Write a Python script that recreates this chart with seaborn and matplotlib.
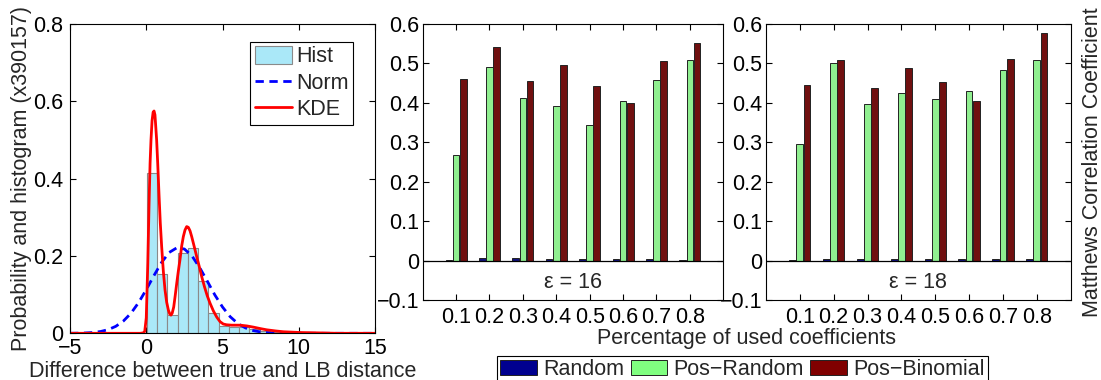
import numpy as np
import pandas as pd
import matplotlib
matplotlib.use("Agg")
import matplotlib.pyplot as plt
from matplotlib.patches import Patch
from matplotlib.lines import Line2D
from matplotlib.ticker import FixedLocator, FixedFormatter
import seaborn as sns

# ---------------- data ----------------
# histogram of the distance difference (normalised)
hist_left = 0.03
hist_width = 0.673
hist_heights = [0.415, 0.153, 0.047, 0.208, 0.221, 0.134, 0.052, 0.019,
                0.017, 0.017, 0.010, 0.006, 0.004, 0.003, 0.002, 0.001]

# fitted normal curve
norm_x = [-5, -4.5, -4, -3.5, -3, -2.5, -2, -1.5, -1, -0.5, 0, 0.5, 1, 1.5,
          2, 2.5, 3, 3.5, 4, 4.5, 5, 5.5, 6, 6.5, 7, 7.5, 8, 8.5, 9, 10, 15]
norm_y = [0.0001, 0.0004, 0.0009, 0.002, 0.0046, 0.0094, 0.018, 0.0317,
          0.052, 0.0796, 0.113, 0.149, 0.183, 0.209, 0.221, 0.218, 0.200,
          0.170, 0.135, 0.099, 0.068, 0.043, 0.0255, 0.014, 0.0071, 0.0034,
          0.0015, 0.0006, 0.0002, 0.0, 0.0]

# kernel density estimate
kde_x = [-5, -0.4, -0.2, -0.1, 0.0, 0.05, 0.1, 0.18, 0.25, 0.31, 0.38, 0.45,
         0.51, 0.57, 0.63, 0.68, 0.75, 0.84, 0.92, 1.01, 1.12, 1.23, 1.34,
         1.45, 1.54, 1.62, 1.7, 1.8, 1.89, 2.0, 2.1, 2.21, 2.32, 2.43, 2.54,
         2.65, 2.76, 2.87, 2.98, 3.14, 3.31, 3.48, 3.64, 3.82, 4.0, 4.18, 4.4,
         4.62, 4.84, 5.05, 5.27, 5.6, 6.15, 6.6, 7.02, 7.5, 7.9, 8.5, 9.0,
         10.1, 11.4, 12.5, 15]
kde_y = [0, 0, 0.001, 0.005, 0.04, 0.11, 0.18, 0.33, 0.44, 0.50, 0.55, 0.572,
         0.575, 0.565, 0.53, 0.50, 0.44, 0.355, 0.285, 0.224, 0.16, 0.112,
         0.08, 0.060, 0.050, 0.047, 0.052, 0.068, 0.095, 0.13, 0.16, 0.19,
         0.225, 0.25, 0.267, 0.276, 0.274, 0.265, 0.25, 0.225, 0.198, 0.172,
         0.146, 0.12, 0.097, 0.078, 0.058, 0.042, 0.030, 0.024, 0.022, 0.021,
         0.021, 0.019, 0.016, 0.012, 0.009, 0.006, 0.004, 0.002, 0.001, 0.0,
         0.0]

# Matthews correlation coefficient per fraction of used coefficients
pct_labels = ["0.1", "0.2", "0.3", "0.4", "0.5", "0.6", "0.7", "0.8"]
methods = ["Random", "Pos\u2212Random", "Pos\u2212Binomial"]
eps16_random = [0.001, 0.006, 0.007, 0.004, 0.005, 0.005, 0.003, 0.002]
eps16_posrand = [0.267, 0.492, 0.413, 0.391, 0.344, 0.406, 0.458, 0.510]
eps16_posbin = [0.460, 0.541, 0.456, 0.497, 0.442, 0.399, 0.506, 0.551]
eps18_random = [0.002, 0.003, 0.004, 0.003, 0.004, 0.005, 0.005, 0.005]
eps18_posrand = [0.296, 0.502, 0.397, 0.426, 0.409, 0.429, 0.483, 0.508]
eps18_posbin = [0.445, 0.508, 0.438, 0.489, 0.453, 0.405, 0.511, 0.578]

left_xticks = [-5, 0, 5, 10, 15]
left_yticks = [0, 0.2, 0.4, 0.6, 0.8]
left_yticklabels = ["0", "0.2", "0.4", "0.6", "0.8"]
bar_yticks = [-0.1, 0, 0.1, 0.2, 0.3, 0.4, 0.5, 0.6]
bar_yticklabels = ["\u22120.1", "0", "0.1", "0.2", "0.3", "0.4", "0.5", "0.6"]

# ---------------- style ----------------
FS = 15.5
sns.set_style("ticks")
plt.rcParams["font.family"] = ["Liberation Sans", "DejaVu Sans"]
plt.rcParams["font.size"] = FS
plt.rcParams["axes.linewidth"] = 0.8
plt.rcParams["axes.edgecolor"] = "black"

bar_colors = ["#00008F", "#80FF80", "#800000"]
hist_color = "#AAE8F8"

fig = plt.figure(figsize=(11.01, 3.80), dpi=100)
ax1 = fig.add_axes([0.0636, 0.1229, 0.2770, 0.8140])
ax2 = fig.add_axes([0.3839, 0.2105, 0.2730, 0.7263])
ax3 = fig.add_axes([0.6957, 0.2105, 0.2767, 0.7263])


def box_ticks(ax, pad_x, pad_y):
    ax.tick_params(axis="both", which="both", direction="in", length=4,
                   width=0.8, top=True, right=True, labelsize=FS,
                   color="black", labelcolor="black")
    ax.tick_params(axis="x", pad=pad_x)
    ax.tick_params(axis="y", pad=pad_y)
    for s in ax.spines.values():
        s.set_visible(True)
        s.set_color("black")
        s.set_linewidth(0.8)


# ---------------- left panel: distribution ----------------
n_bins = len(hist_heights)
centers = hist_left + hist_width * (np.arange(n_bins) + 0.5)
hist_df = pd.DataFrame({"center": centers, "height": hist_heights})
sns.histplot(data=hist_df, x="center", weights="height",
             binwidth=hist_width,
             binrange=(hist_left, hist_left + n_bins * hist_width),
             stat="count", color=hist_color, edgecolor="#8A8A8A",
             linewidth=0.8, alpha=1.0, ax=ax1)
sns.lineplot(x=norm_x, y=norm_y, color="#0000FF", lw=2.0,
             linestyle=(0, (3.0, 2.0)), sort=False, estimator=None, ax=ax1)
sns.lineplot(x=kde_x, y=kde_y, color="#FF0000", lw=2.0, sort=False,
             estimator=None, ax=ax1)
ax1.set_xlim(-5, 15)
ax1.set_ylim(0, 0.8)
ax1.xaxis.set_major_locator(FixedLocator(left_xticks))
ax1.yaxis.set_major_locator(FixedLocator(left_yticks))
ax1.yaxis.set_major_formatter(FixedFormatter(left_yticklabels))
box_ticks(ax1, pad_x=3.5, pad_y=5)
ax1.set_xlabel("Difference between true and LB distance", fontsize=FS,
               labelpad=1.5)
ax1.set_ylabel("Probability and histogram (x390157)", fontsize=FS,
               labelpad=1)

leg_handles = [
    Patch(facecolor=hist_color, edgecolor="#8A8A8A", lw=0.8, label="Hist"),
    Line2D([0], [0], color="#0000FF", lw=2.0, linestyle=(0, (3.0, 2.0)),
           label="Norm"),
    Line2D([0], [0], color="#FF0000", lw=2.0, label="KDE"),
]
leg1 = ax1.legend(handles=leg_handles, loc="upper right",
                  bbox_to_anchor=(0.929, 0.943), fontsize=FS, frameon=True,
                  fancybox=False, framealpha=1, edgecolor="black",
                  handlelength=1.7, handleheight=0.85, handletextpad=0.2,
                  labelspacing=0.25, borderpad=0.22, borderaxespad=0)
leg1.get_frame().set_linewidth(0.8)

# ---------------- bar panels ----------------
def bar_panel(ax, rnd, prnd, pbin, eps_label):
    df = pd.DataFrame({
        "pct": pct_labels * 3,
        "method": [methods[0]] * 8 + [methods[1]] * 8 + [methods[2]] * 8,
        "mcc": list(rnd) + list(prnd) + list(pbin),
    })
    sns.barplot(data=df, x="pct", y="mcc", hue="method", hue_order=methods,
                palette=bar_colors, width=0.64, gap=0.06, edgecolor="#222222",
                linewidth=0.7, legend=False, ax=ax)
    ax.axhline(0, color="black", lw=0.9, zorder=5)
    ax.set_xlim(-1, 8)
    ax.set_ylim(-0.1, 0.6)
    ax.yaxis.set_major_locator(FixedLocator(bar_yticks))
    ax.yaxis.set_major_formatter(FixedFormatter(bar_yticklabels))
    ax.set_xticks(range(len(pct_labels)))
    ax.set_xticklabels(pct_labels)
    box_ticks(ax, pad_x=5, pad_y=2.5)
    ax.set_xlabel("")
    ax.set_ylabel("")
    ax.text(3.5, -0.055, eps_label, ha="center", va="center", fontsize=FS)


bar_panel(ax2, eps16_random, eps16_posrand, eps16_posbin, "\u03b5 = 16")
bar_panel(ax3, eps18_random, eps18_posrand, eps18_posbin, "\u03b5 = 18")

ax3.yaxis.set_label_position("right")
ax3.set_ylabel("Matthews Correlation Coefficient", fontsize=FS, labelpad=8)

fig.text(0.6784, 0.1105, "Percentage of used coefficients", ha="center",
         va="center", fontsize=FS)

bar_handles = [Patch(facecolor=c, edgecolor="#222222", lw=0.7, label=m)
               for c, m in zip(bar_colors, methods)]
leg2 = fig.legend(handles=bar_handles, loc="upper center",
                  bbox_to_anchor=(0.6744, 0.062), ncol=3, fontsize=FS,
                  frameon=True, fancybox=False, framealpha=1,
                  edgecolor="black", handlelength=1.7, handleheight=0.75,
                  handletextpad=0.3, columnspacing=0.3, borderpad=0.12,
                  borderaxespad=0)
leg2.get_frame().set_linewidth(0.8)

fig.savefig("out.png", dpi=100, facecolor="white")
